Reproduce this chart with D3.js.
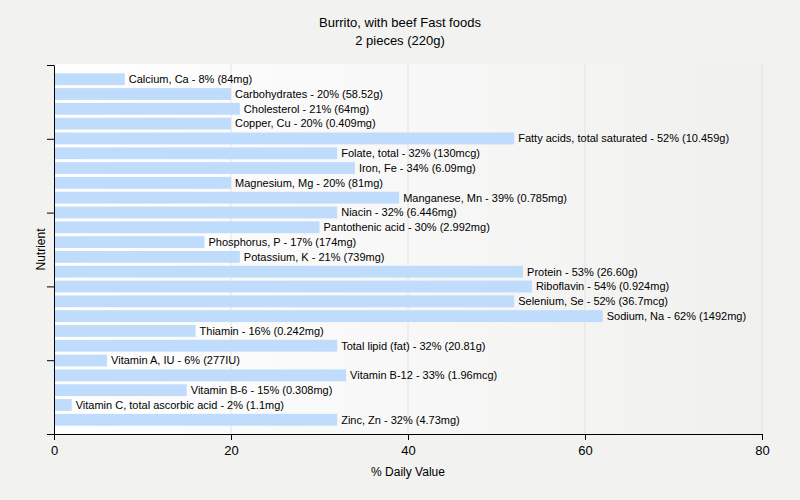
<!DOCTYPE html>
<html><head><meta charset="utf-8">
<script src="https://cdn.jsdelivr.net/npm/d3@7"></script>
<style>body{margin:0;background:#f2f2f1;}svg{display:block;font-family:"Liberation Sans",Arial,sans-serif;}</style>
</head><body><svg id="c" width="800" height="500"></svg>
<script>
const nutrients = ["Calcium, Ca","Carbohydrates","Cholesterol","Copper, Cu","Fatty acids, total saturated","Folate, total","Iron, Fe","Magnesium, Mg","Manganese, Mn","Niacin","Pantothenic acid","Phosphorus, P","Potassium, K","Protein","Riboflavin","Selenium, Se","Sodium, Na","Thiamin","Total lipid (fat)","Vitamin A, IU","Vitamin B-12","Vitamin B-6","Vitamin C, total ascorbic acid","Zinc, Zn"];
const dailyValues = [8,20,21,20,52,32,34,20,39,32,30,17,21,53,54,52,62,16,32,6,33,15,2,32];
const amounts = ["84mg","58.52g","64mg","0.409mg","10.459g","130mcg","6.09mg","81mg","0.785mg","6.446mg","2.992mg","174mg","739mg","26.60g","0.924mg","36.7mcg","1492mg","0.242mg","20.81g","277IU","1.96mcg","0.308mg","1.1mg","4.73mg"];
const xTicks = [0,20,40,60,80];
const titleLines = ["Burrito, with beef Fast foods","2 pieces (220g)"];

const svg = d3.select("#c");
const L=54, R=762, T=65, B=434;
const x = d3.scaleLinear().domain([0,80]).range([L,R]);
const y = d3.scaleBand().domain(nutrients).range([T,B]).paddingInner(0.2).paddingOuter(0.56);

const defs = svg.append("defs");
const g = defs.append("linearGradient").attr("id","bg").attr("x1","0").attr("x2","1").attr("y1","0").attr("y2","0");
g.append("stop").attr("offset","0").attr("stop-color","#ffffff");
g.append("stop").attr("offset","1").attr("stop-color","#f0f0ef");
svg.append("rect").attr("x",L).attr("y",T-1).attr("width",R-L).attr("height",B-T+1).attr("fill","url(#bg)");

svg.append("g").selectAll("line").data(xTicks.slice(1)).join("line")
  .attr("x1",d=>x(d)).attr("x2",d=>x(d)).attr("y1",T-1).attr("y2",B)
  .attr("stroke","#e2e2e2").attr("stroke-width",1);

svg.append("g").selectAll("rect").data(nutrients).join("rect")
  .attr("x",x(0)).attr("y",d=>y(d)).attr("height",y.bandwidth())
  .attr("width",(d,i)=>x(dailyValues[i])-x(0)).attr("fill","#c0dcfd");

svg.append("g").selectAll("text").data(nutrients).join("text")
  .attr("x",(d,i)=>x(dailyValues[i])+4).attr("y",d=>y(d)+y.bandwidth()/2).attr("dy","0.35em")
  .attr("font-size","11px").attr("fill","#000")
  .text((d,i)=>`${d} - ${dailyValues[i]}% (${amounts[i]})`);

const xa = svg.append("g").attr("transform",`translate(0,${B})`)
  .call(d3.axisBottom(x).tickValues(xTicks).tickSize(6).tickSizeOuter(0));
xa.select(".domain").attr("stroke","#000");
xa.selectAll("text").attr("font-size","13px").attr("font-family","'Liberation Sans',Arial,sans-serif").attr("fill","#000").attr("dy","0.95em");

const yl = d3.scaleLinear().domain([0,5]).range([T,B]);
const ya = svg.append("g").attr("transform",`translate(${L},0)`)
  .call(d3.axisLeft(yl).ticks(5).tickSize(7).tickFormat("").tickSizeOuter(0));
ya.select(".domain").attr("stroke","#000");

svg.append("text").attr("x",400).attr("y",27).attr("text-anchor","middle").attr("font-size","13px").text(titleLines[0]);
svg.append("text").attr("x",400).attr("y",45).attr("text-anchor","middle").attr("font-size","13px").text(titleLines[1]);
svg.append("text").attr("x",(L+R)/2).attr("y",476).attr("text-anchor","middle").attr("font-size","12px").text("% Daily Value");
svg.append("text").attr("transform",`translate(45,${(T+B)/2}) rotate(-90)`).attr("text-anchor","middle").attr("font-size","12px").text("Nutrient");
</script></body></html>
